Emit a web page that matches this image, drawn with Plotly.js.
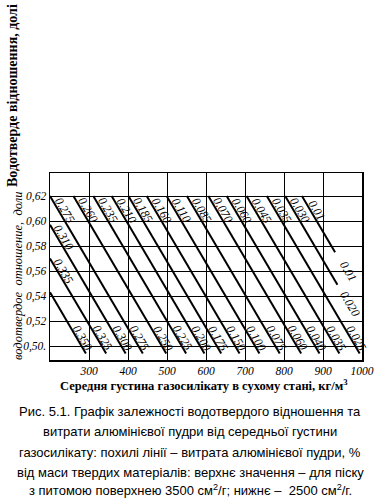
<!DOCTYPE html>
<html><head><meta charset="utf-8">
<script src="https://cdn.plot.ly/plotly-3.0.1.min.js"></script>
<style>html,body{margin:0;padding:0;background:#fff;}#chart{width:381px;height:498px;}</style>
</head><body><div id="chart"></div>
<script>
// ---- data ----
// slanted lines (aluminium powder consumption), start and end points
const lineStartX = [200, 200, 200, 200, 260, 311, 358, 401, 448, 499, 551, 606, 653, 704, 756, 803, 846];
const lineStartY = [0.543, 0.570, 0.597, 0.620, 0.620, 0.620, 0.620, 0.620, 0.620, 0.620, 0.620, 0.620, 0.620, 0.620, 0.620, 0.620, 0.620];
const lineEndX   = [292, 344, 394, 438, 498, 549, 596, 639, 686, 737, 789, 844, 891, 942, 994, 937, 931];
const lineEndY   = [0.494, 0.494, 0.494, 0.494, 0.494, 0.494, 0.494, 0.494, 0.494, 0.494, 0.494, 0.494, 0.494, 0.494, 0.494, 0.549, 0.575];
// upper value: sand 3500 cm2/g ; lower value: sand 2500 cm2/g
const upperLabels = ['', '0.335', '0.310', '0.275', '0.260', '0.235', '0.210', '0.185', '0.160', '0.110', '0.085', '0.070', '0.060', '0.045', '0.035', '0.030', '0.01'];
const lowerLabels = ['0.350', '0.325', '0.300', '0.275', '0.250', '0.225', '0.200', '0.175', '0.150', '0.100', '0.075', '0.060', '0.040', '0.035', '0.025', '0.020', '0.01'];
// axes
const xTickVals = [300, 400, 500, 600, 700, 800, 900, 1000];
const xTickText = ['300', '400', '500', '600', '700', '800', '900', '1000'];
const yTickVals = [0.50, 0.52, 0.54, 0.56, 0.58, 0.60, 0.62];
const yTickText = ['0,50.', '0,52', '0,54', '0,56', '0,58', '0,60', '0,62'];

// ---- layout geometry ----
const W = 381, H = 498, L = 50, R = 19, T = 173, B = 138;
const pw = W - L - R, ph = H - T - B;
const px = v => (v - L) / pw;          // pixel x -> paper
const py = v => (H - B - v) / ph;      // pixel y -> paper

const traces = [];
for (let i = 0; i < lineStartX.length; i++) {
  traces.push({
    type: 'scatter', mode: 'lines',
    x: [lineStartX[i], lineEndX[i]], y: [lineStartY[i], lineEndY[i]],
    line: {color: '#000', width: 2}, hoverinfo: 'skip', showlegend: false
  });
}
function xAt(i, y) {
  return lineStartX[i] + (y - lineStartY[i]) * (lineEndX[i] - lineStartX[i]) / (lineEndY[i] - lineStartY[i]);
}
const lblFont = {family: 'Liberation Serif, DejaVu Serif, serif', size: 12, style: 'italic', color: '#000'};
const ann = [];
const ANG = 59.5;
for (let i = 0; i < lineStartX.length; i++) {
  if (upperLabels[i]) {
    const y = lineStartY[i] < 0.619 ? lineStartY[i] - 0.010 : 0.6085;
    ann.push({x: xAt(i, y), y: y, xref: 'x', yref: 'y', text: upperLabels[i], showarrow: false,
      textangle: ANG, font: lblFont, xshift: 6, xanchor: 'center', yanchor: 'middle'});
  }
  if (lowerLabels[i]) {
    let y, sh;
    if (lineEndY[i] > 0.52) { y = lineEndY[i] - 0.015; sh = 2; } else { y = 0.5065; sh = 6; }
    ann.push({x: xAt(i, y), y: y, xref: 'x', yref: 'y', text: lowerLabels[i], showarrow: false,
      textangle: ANG, font: lblFont, xshift: sh, xanchor: 'center', yanchor: 'middle'});
  }
}
// titles
const C = {xref: 'paper', yref: 'paper', showarrow: false, xanchor: 'center', yanchor: 'middle'};
ann.push(Object.assign({}, C, {x: px(13), y: py(96), text: 'Водотверде відношення, долі', textangle: -90,
  font: {family: 'Liberation Serif, serif', size: 14, weight: 'bold', color: '#000'}}));
ann.push(Object.assign({}, C, {x: px(18), y: py(276), text: 'водотвердое  отношение,  доли', textangle: -90,
  font: {family: 'Liberation Serif, serif', size: 12.5, style: 'italic', color: '#000'}}));
ann.push(Object.assign({}, C, {x: px(204), y: py(385), text: 'Середня густина газосилікату в сухому стані, кг/м<sup>3</sup>',
  font: {family: 'Liberation Serif, serif', size: 12.5, weight: 'bold', color: '#000'}}));
const caption = [
  'Рис. 5.1. Графік залежності водотвердого відношення та',
  'витрати алюмінієвої пудри від середньої густини',
  'газосилікату: похилі лінії – витрата алюмінієвої пудри, %',
  'від маси твердих матеріалів: верхнє значення – для піску',
  'з питомою поверхнею 3500 см<sup>2</sup>/г; нижнє –  2500 см<sup>2</sup>/г.'
];
const capY = [411, 431, 452, 472, 490];
caption.forEach((t, k) => ann.push(Object.assign({}, C, {x: px(190), y: py(capY[k]), text: t,
  font: {family: 'Liberation Sans, Arial, sans-serif', size: 13, color: '#000'}})));

const tickFont = {family: 'Liberation Serif, serif', size: 11.5, style: 'italic', color: '#000'};
const layout = {
  width: W, height: H, margin: {l: L, r: R, t: T, b: B, pad: 0},
  paper_bgcolor: '#fff', plot_bgcolor: '#fff', showlegend: false,
  xaxis: {range: [200, 1000], tickmode: 'array', tickvals: xTickVals, ticktext: xTickText, tickfont: tickFont,
    showgrid: true, gridcolor: '#000', gridwidth: 1, zeroline: false, showline: true, mirror: true,
    linecolor: '#000', linewidth: 1.5, ticks: '', automargin: false, fixedrange: true},
  yaxis: {range: [0.4888, 0.6384], tickmode: 'array', tickvals: yTickVals, ticktext: yTickText, tickfont: tickFont,
    showgrid: true, gridcolor: '#000', gridwidth: 1, zeroline: false, showline: true, mirror: true,
    linecolor: '#000', linewidth: 1.5, ticks: '', automargin: false, fixedrange: true},
  annotations: ann
};
Plotly.newPlot('chart', traces, layout, {staticPlot: true, displayModeBar: false});
</script></body></html>
